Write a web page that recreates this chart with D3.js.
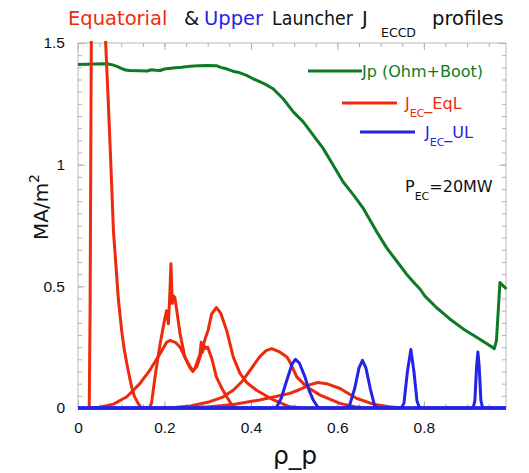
<!DOCTYPE html>
<html>
<head>
<meta charset="utf-8">
<script src="https://cdn.jsdelivr.net/npm/d3@7"></script>
<style>
  body { margin: 0; background: #fff; }
  svg { font-family: "DejaVu Sans", sans-serif; }
  .frame { fill: none; stroke: #b8b8b8; stroke-width: 1; }
  .axis path { display: none; }
  .axis line { stroke: #b0b0b0; }
  .axis text { font-size: 15.5px; fill: #111; }
  .curve { fill: none; stroke-width: 3; stroke-linejoin: round; }
</style>
</head>
<body>
<div id="chart"></div>
<script>
// J profiles, rho_p vs MA/m^2

var xTicks = [0, 0.2, 0.4, 0.6, 0.8];
var yTicks = [0, 0.5, 1, 1.5];

// total plasma current (ohmic + bootstrap)
var jp = [[0,1.412],[0.02,1.413],[0.04,1.414],[0.06,1.415],[0.07,1.414],[0.08,1.41],[0.09,1.404],
  [0.1,1.396],[0.11,1.389],[0.12,1.387],[0.14,1.386],[0.16,1.385],[0.17,1.39],[0.18,1.388],[0.19,1.387],
  [0.2,1.393],[0.22,1.397],[0.24,1.4],[0.26,1.404],[0.28,1.407],[0.3,1.408],[0.32,1.407],[0.33,1.4],
  [0.345,1.393],[0.36,1.383],[0.37,1.38],[0.39,1.367],[0.405,1.353],[0.42,1.341],[0.435,1.329],
  [0.452,1.311],[0.475,1.27],[0.498,1.217],[0.521,1.176],[0.544,1.121],[0.567,1.067],[0.59,0.999],
  [0.613,0.93],[0.637,0.876],[0.66,0.82],[0.69,0.727],[0.714,0.658],[0.737,0.604],[0.76,0.55],
  [0.78,0.51],[0.791,0.489],[0.802,0.461],[0.829,0.413],[0.86,0.366],[0.891,0.325],[0.922,0.291],
  [0.945,0.265],[0.963,0.244],[0.968,0.278],[0.976,0.516],[0.991,0.489]];

// equatorial launcher beams
var eq0 = [[0.026,0],[0.028,0.4],[0.03,1.2],[0.032,2.0],[0.04,3.0],[0.05,2.8],[0.058,2.0],[0.064,1.5],
  [0.07,1.26],[0.076,1.0],[0.082,0.727],[0.088,0.58],[0.093,0.454],[0.101,0.318],[0.107,0.24],
  [0.113,0.182],[0.12,0.12],[0.124,0.087],[0.13,0.05],[0.139,0.019],[0.145,0.004],[0.152,0]];
var eq1 = [[0.03,0],[0.05,0.003],[0.082,0.016],[0.113,0.046],[0.143,0.1],[0.166,0.155],[0.19,0.224],
  [0.205,0.27],[0.213,0.278],[0.225,0.27],[0.236,0.25],[0.251,0.196],[0.265,0.152],[0.275,0.17],
  [0.285,0.225],[0.295,0.29],[0.301,0.32],[0.309,0.386],[0.32,0.413],[0.33,0.39],[0.344,0.318],
  [0.359,0.21],[0.375,0.141],[0.39,0.105],[0.413,0.073],[0.452,0.033],[0.49,0.005],[0.52,0]];
var eq2 = [[0.165,0],[0.17,0.02],[0.18,0.15],[0.19,0.264],[0.2,0.36],[0.205,0.4],[0.209,0.346],
  [0.212,0.45],[0.215,0.593],[0.218,0.43],[0.221,0.46],[0.224,0.454],[0.228,0.407],[0.236,0.306],
  [0.247,0.21],[0.259,0.165],[0.266,0.15],[0.272,0.17],[0.278,0.2],[0.282,0.22],[0.285,0.27],
  [0.288,0.23],[0.292,0.255],[0.296,0.245],[0.3,0.25],[0.31,0.2],[0.32,0.128],[0.333,0.08],
  [0.344,0.046],[0.355,0.015],[0.365,0]];
var eq3 = [[0.21,0],[0.26,0.008],[0.305,0.026],[0.335,0.045],[0.359,0.073],[0.38,0.11],[0.398,0.155],
  [0.42,0.21],[0.435,0.236],[0.448,0.244],[0.465,0.232],[0.483,0.21],[0.49,0.19],[0.506,0.128],
  [0.529,0.087],[0.56,0.053],[0.606,0.019],[0.64,0.005],[0.67,0]];
var eq4 = [[0.22,0],[0.305,0.005],[0.359,0.014],[0.42,0.033],[0.46,0.048],[0.49,0.06],[0.513,0.076],
  [0.535,0.095],[0.555,0.105],[0.575,0.1],[0.606,0.08],[0.644,0.04],[0.683,0.016],[0.72,0.005],[0.75,0]];

// upper launcher beams
var ul1 = [[0.44,0],[0.459,0.002],[0.47,0.04],[0.483,0.114],[0.495,0.18],[0.503,0.2],[0.512,0.185],
  [0.525,0.128],[0.535,0.07],[0.544,0.033],[0.555,0.003],[0.57,0]];
var ul2 = [[0.62,0],[0.628,0.01],[0.64,0.08],[0.65,0.165],[0.658,0.196],[0.666,0.165],[0.676,0.08],
  [0.686,0.01],[0.695,0]];
var ul3 = [[0.748,0],[0.754,0.02],[0.762,0.15],[0.77,0.24],[0.777,0.15],[0.784,0.03],[0.79,0]];
var ul4 = [[0.914,0],[0.918,0.03],[0.922,0.17],[0.925,0.23],[0.928,0.17],[0.932,0.03],[0.936,0]];

var eqCurves = [eq0, eq1, eq2, eq3, eq4];
var ulCurves = [ul1, ul2, ul3, ul4];

var RED = "#ee2a0c", BLUE = "#2424e6", GREEN = "#0e7a22";

var W = 529, H = 473;
var margin = {top: 43, right: 23, bottom: 65, left: 78};
var width = W - margin.left - margin.right,
    height = H - margin.top - margin.bottom;

var xMax = 0.99;
var x = d3.scaleLinear().domain([0, xMax]).range([0, width]);
var y = d3.scaleLinear().domain([0, 1.5]).range([height, 0]);

var svg = d3.select("#chart").append("svg")
    .attr("width", W).attr("height", H);
var g = svg.append("g").attr("transform", "translate(" + margin.left + "," + margin.top + ")");

g.append("clipPath").attr("id", "clip").append("rect")
    .attr("x", 0).attr("y", -2).attr("width", width + 2).attr("height", height + 4);

// minor ticks first, then major ticks with labels
var xMinor = d3.range(0, xMax, 0.05);
var yMinor = d3.range(0, 1.5001, 0.05);

g.append("g").attr("class", "axis").attr("transform", "translate(0," + height + ")")
    .call(d3.axisBottom(x).tickValues(xMinor).tickSize(-4).tickFormat(""));
g.append("g").attr("class", "axis")
    .call(d3.axisTop(x).tickValues(xMinor).tickSize(-4).tickFormat(""));
g.append("g").attr("class", "axis")
    .call(d3.axisLeft(y).tickValues(yMinor).tickSize(-4).tickFormat(""));
g.append("g").attr("class", "axis").attr("transform", "translate(" + width + ",0)")
    .call(d3.axisRight(y).tickValues(yMinor).tickSize(-4).tickFormat(""));

g.append("g").attr("class", "axis").attr("transform", "translate(0," + height + ")")
    .call(d3.axisBottom(x).tickValues(xTicks).tickSize(-7).tickPadding(14).tickFormat(d3.format("")));
g.append("g").attr("class", "axis")
    .call(d3.axisTop(x).tickValues(xTicks).tickSize(-7).tickFormat(""));
g.append("g").attr("class", "axis")
    .call(d3.axisLeft(y).tickValues(yTicks).tickSize(-7).tickPadding(13).tickFormat(d3.format("")));
g.append("g").attr("class", "axis").attr("transform", "translate(" + width + ",0)")
    .call(d3.axisRight(y).tickValues(yTicks).tickSize(-7).tickFormat(""));

g.append("rect").attr("class", "frame").attr("width", width).attr("height", height);

var line = d3.line()
    .x(function(d) { return x(d[0]); })
    .y(function(d) { return y(d[1]); });

var plot = g.append("g").attr("clip-path", "url(#clip)");

plot.append("path").datum(jp).attr("class", "curve").attr("stroke", GREEN).attr("stroke-width", 3.4).attr("d", line);

plot.selectAll(".eq").data(eqCurves).enter().append("path")
    .attr("class", "curve eq").attr("stroke", RED).attr("d", line);

// upper launcher curves drawn with the zero baseline across the whole axis
plot.selectAll(".ul").data(ulCurves).enter().append("path")
    .attr("class", "curve ul").attr("stroke", BLUE).attr("stroke-width", 3.4)
    .attr("d", function(d) { return line([[0, 0]].concat(d, [[xMax, 0]])); });

// title, pieces placed where they sit in the picture
var titleParts = [
  {t: "Equatorial", x: 68, c: RED},
  {t: "&", x: 184, c: "#111"},
  {t: "Upper", x: 204, c: BLUE},
  {t: "Launcher", x: 272, c: "#111", w: 81},
  {t: "J", x: 362, c: "#111"},
  {t: "profiles", x: 432, c: "#111"}
];
titleParts.forEach(function(p) {
  var t = svg.append("text").attr("x", p.x).attr("y", 25).attr("font-size", 19.5)
      .attr("fill", p.c).text(p.t);
  if (p.w) t.attr("textLength", p.w).attr("lengthAdjust", "spacingAndGlyphs");
});
svg.append("text").attr("x", 381).attr("y", 37).attr("font-size", 12.5)
    .attr("fill", "#111").text("ECCD");

// axis labels
svg.append("text").attr("x", 295).attr("y", 464).attr("text-anchor", "middle")
    .attr("font-size", 25).attr("fill", "#111").text("\u03c1_p");

var yl = svg.append("text").attr("transform", "translate(48,207) rotate(-90)")
    .attr("text-anchor", "middle").attr("font-size", 20).attr("fill", "#111");
yl.append("tspan").text("MA/m");
yl.append("tspan").attr("font-size", 14).attr("dy", -9).text("2");

// legend
var legend = [
  {label: "Jp (Ohm+Boot)", sub: null, rest: null, color: GREEN, x1: 308, x2: 362, ty: 71, tx: 362},
  {label: "J", sub: "EC", rest: "_EqL", color: RED, x1: 342, x2: 397, ty: 103, tx: 405},
  {label: "J", sub: "EC", rest: "_UL", color: BLUE, x1: 360, x2: 415, ty: 132, tx: 425}
];
legend.forEach(function(l) {
  svg.append("line").attr("x1", l.x1).attr("x2", l.x2).attr("y1", l.ty).attr("y2", l.ty)
      .attr("stroke", l.color).attr("stroke-width", 2.8);
  var t = svg.append("text").attr("x", l.tx).attr("y", l.ty + 6).attr("font-size", 16).attr("fill", l.color);
  t.append("tspan").text(l.label);
  if (l.sub) {
    t.append("tspan").attr("font-size", 11).attr("dy", 8).text(l.sub);
    t.append("tspan").attr("dy", -8).text(l.rest);
  }
});

var pec = svg.append("text").attr("x", 405).attr("y", 192).attr("font-size", 16).attr("fill", "#111");
pec.append("tspan").text("P");
pec.append("tspan").attr("font-size", 11).attr("dy", 8).text("EC");
pec.append("tspan").attr("dy", -8).text("=20MW");
</script>
</body>
</html>
